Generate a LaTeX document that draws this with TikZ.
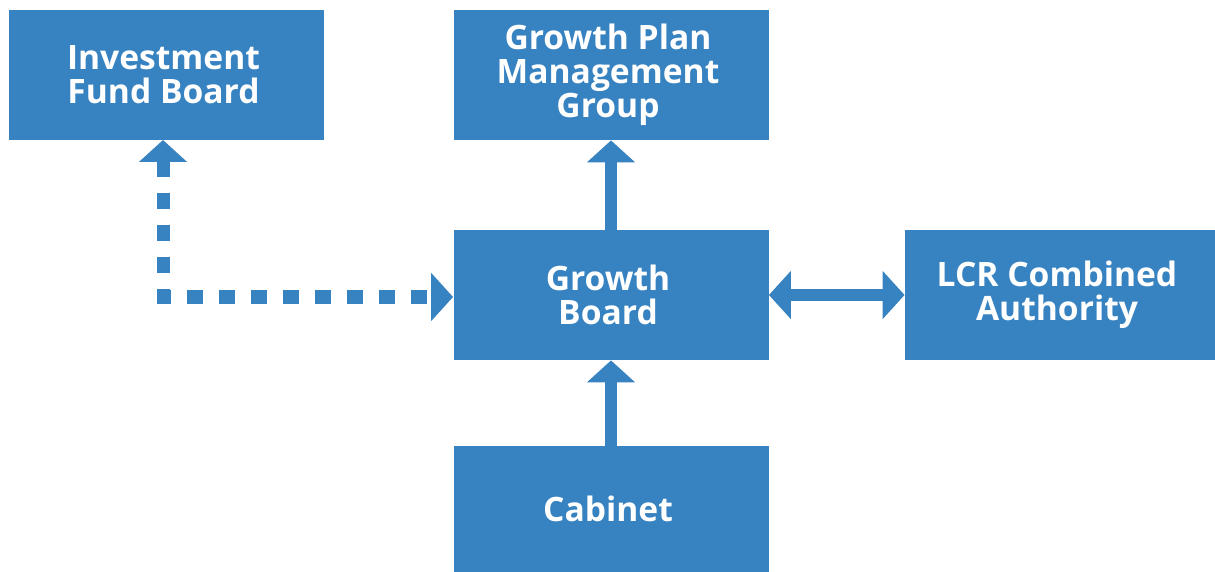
\documentclass[tikz,border=0pt]{standalone}
\usepackage{fontspec}
\setmainfont{Open Sans}
\usetikzlibrary{arrows.meta}
\definecolor{boardblue}{HTML}{3782C0}

\begin{document}
\begin{tikzpicture}[x=0.5pt,y=-0.5pt,
    board/.style={fill=boardblue, text=white, align=center,
        font=\fontsize{16.8}{17}\selectfont\bfseries,
        minimum width=157.5pt, minimum height=65pt, inner sep=0pt},
    link/.style={draw=boardblue, line width=6pt},
    tip/.tip={Triangle[length=11pt,width=23.5pt]}]
                \useasboundingbox (0,0) rectangle (1215,572);
                \node [board] (ifb) at (166.5,75) {\hspace*{-3pt}Investment\\\hspace*{-3pt}Fund Board};
                \node [board] (gpmg) at (611,75) {\hspace*{-3pt}Growth Plan\\\hspace*{-3pt}Management\\\hspace*{-3pt}Group};
                \node [board] (gb) at (611,295) {\hspace*{-3pt}Growth\\\hspace*{-3pt}Board};
                \node [board, minimum width=155pt] (lcr) at (1060,295) {\hspace*{-3pt}LCR Combined\\\hspace*{-3pt}Authority};
                \node [board, minimum height=63pt] (cab) at (611,509) {\hspace*{-3pt}Cabinet};
                \coordinate (drop) at (163,140);
                \draw [link, -tip] (gb.north) -- (gpmg.south);
                \draw [link, -tip] (cab.north) -- (gb.south);
                \draw [link, tip-tip] (gb.east) -- (lcr.west);
                \draw [link, line width=6.5pt, dash pattern=on 8pt off 8pt, tip-tip]
                    (drop) |- ([yshift=-1pt]gb.west);
            \end{tikzpicture}
\end{document}
